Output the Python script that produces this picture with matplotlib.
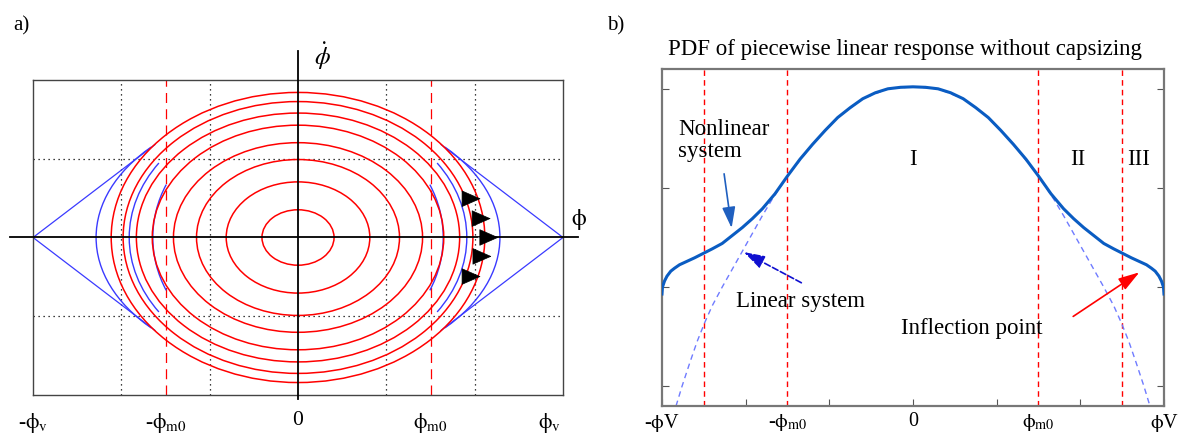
import numpy as np
import matplotlib.pyplot as plt
from matplotlib.patches import Ellipse, Arc

plt.rcParams['font.family'] = ['Liberation Serif', 'DejaVu Serif']
plt.rcParams['mathtext.fontset'] = 'stix'

# ---- panel a: phase portrait ----
# red trajectories of the linear system (semi-axes, phi and phi-dot)
ell_semi_x = [0.136, 0.271, 0.383, 0.47, 0.55, 0.61, 0.66, 0.705]
ell_semi_y = [0.176, 0.353, 0.495, 0.602, 0.713, 0.79, 0.863, 0.921]

# blue trajectories of the nonlinear system beyond phi_m0 (arcs, half-angle in deg)
blue_semi_x = [0.548, 0.637, 0.762]
blue_semi_y = [0.80, 0.835, 0.836]
blue_half_angle = [34, 42, 46]
# separatrix-like straight branches from +/-phi_v
sep_x = [1.0, 0.54]
sep_y = [0.0, 0.59]

arrow_tip_x = [0.70, 0.738, 0.767, 0.741, 0.70]
arrow_tip_y = [0.246, 0.12, 0.0, -0.12, -0.248]
arrow_tail_x = [0.64, 0.66, 0.68, 0.66, 0.64]

a_grid_x = [-2 / 3, -1 / 3, 1 / 3, 2 / 3]
a_grid_y = [-0.5, 0.5]
a_ticks = [-1.0, -0.5, 0.0, 0.5, 0.95]
a_labels = [r'-$\mathrm{\phi}_{\mathrm{v}}$', r'-$\mathrm{\phi}_{\mathrm{m0}}$', '0',
            r'$\mathrm{\phi}_{\mathrm{m0}}$', r'$\mathrm{\phi}_{\mathrm{v}}$']

# ---- panel b: PDF ----
pdf_x = [-1.0, -0.998, -0.99, -0.98, -0.965, -0.95, -0.93, -0.9, -0.87, -0.835,
         -0.8, -0.76, -0.72, -0.68, -0.64, -0.6, -0.55, -0.5, -0.45, -0.4,
         -0.35, -0.3, -0.25, -0.2, -0.15, -0.1, -0.05, 0.0, 0.05, 0.1,
         0.15, 0.2, 0.25, 0.3, 0.35, 0.4, 0.45, 0.5, 0.55, 0.6,
         0.64, 0.68, 0.72, 0.76, 0.8, 0.835, 0.87, 0.9, 0.93, 0.95,
         0.965, 0.98, 0.99, 0.998, 1.0]
pdf_y = [0.93, 1.0, 1.06, 1.11, 1.16, 1.19, 1.225, 1.26, 1.295, 1.34,
         1.385, 1.44, 1.52, 1.6, 1.69, 1.79, 1.94, 2.12, 2.29, 2.44,
         2.58, 2.71, 2.81, 2.9, 2.96, 3.0, 3.015, 3.02, 3.015, 3.0,
         2.96, 2.9, 2.81, 2.71, 2.58, 2.44, 2.29, 2.12, 1.94, 1.79,
         1.69, 1.6, 1.52, 1.44, 1.385, 1.34, 1.295, 1.26, 1.225, 1.19,
         1.16, 1.11, 1.06, 1.0, 0.93]

lin_x = [-0.944, -0.92, -0.89, -0.86, -0.83, -0.8, -0.76, -0.72, -0.68, -0.64,
         -0.6, -0.56, -0.5, -0.4, -0.3, -0.2, -0.1, 0.0, 0.1, 0.2,
         0.3, 0.4, 0.5, 0.56, 0.6, 0.64, 0.68, 0.72, 0.76, 0.8,
         0.83, 0.86, 0.89, 0.92, 0.944]
lin_y = [-0.2, 0.0, 0.23, 0.45, 0.64, 0.81, 1.0, 1.18, 1.36, 1.54,
         1.72, 1.89, 2.12, 2.44, 2.71, 2.9, 3.0, 3.02, 3.0, 2.9,
         2.71, 2.44, 2.12, 1.89, 1.72, 1.54, 1.36, 1.18, 1.0, 0.81,
         0.64, 0.45, 0.23, 0.0, -0.2]

b_region_lines = [-0.833, -0.5, 0.5, 0.833]
b_xticks = [-1, -2 / 3, -1 / 3, 0, 1 / 3, 2 / 3, 1]
b_label_pos = [-1.0, -0.5, 0.0, 0.5, 1.0]
b_labels = [r'-$\mathrm{\phi}$V', r'-$\mathrm{\phi}_{\mathrm{m0}}$', '0',
            r'$\mathrm{\phi}_{\mathrm{m0}}$', r'$\mathrm{\phi}$V']
b_yticks = [0, 1, 2, 3]

RED = '#ff0000'
BLUE = '#3a3aff'

fig = plt.figure(figsize=(11.84, 4.39), dpi=100)

# ================= panel a =================
ax = fig.add_axes([0.0279, 0.098, 0.4476, 0.7175])
ax.set_xlim(-1, 1)
ax.set_ylim(-1, 1)
for gx in a_grid_x:
    ax.axvline(gx, color='black', lw=0.9, ls=(0, (1, 3)))
for gy in a_grid_y:
    ax.axhline(gy, color='black', lw=0.9, ls=(0, (1, 3)))
for rx in [-0.5, 0.5]:
    ax.axvline(rx, color=RED, lw=0.9, ls=(0, (8, 5)))

for w, h in zip(ell_semi_x, ell_semi_y):
    ax.add_patch(Ellipse((0, 0), 2 * w, 2 * h, fill=False, ec=RED, lw=1.1, zorder=3))

for w, h, th in zip(blue_semi_x, blue_semi_y, blue_half_angle):
    ax.add_patch(Arc((0, 0), 2 * w, 2 * h, theta1=-th, theta2=th, ec=BLUE, lw=1.0, zorder=2))
    ax.add_patch(Arc((0, 0), 2 * w, 2 * h, theta1=180 - th, theta2=180 + th,
                     ec=BLUE, lw=1.0, zorder=2))

for sx in (1, -1):
    for sy in (1, -1):
        ax.plot(sx * np.array(sep_x), sy * np.array(sep_y), color=BLUE, lw=0.9, zorder=2)

# axes through the origin
ax.plot([-1.088, 1.055], [0, 0], color='black', lw=1.3, clip_on=False, zorder=4)
ax.plot([0, 0], [-1.027, 1.187], color='black', lw=1.3, clip_on=False, zorder=4)
ax.text(1.03, 0.04, r'$\mathrm{\phi}$', fontsize=17, ha='left', va='bottom')
ax.text(0.06, 1.06, r'$\dot{\phi}$', fontsize=18, ha='left', va='bottom')

for tx, ty, t0 in zip(arrow_tip_x, arrow_tip_y, arrow_tail_x):
    ax.plot([t0, tx - 0.03], [ty, ty], color='grey', lw=0.8, zorder=5)
    ax.annotate('', xy=(tx, ty), xytext=(tx - 0.035, ty),
                arrowprops=dict(arrowstyle='-|>,head_length=0.8,head_width=0.35',
                                color='black', lw=0.5, mutation_scale=16), zorder=6)

ax.set_xticks(a_ticks)
ax.set_xticklabels(a_labels, fontsize=15.5)
ax.set_yticks([])
ax.tick_params(axis='x', length=0, pad=11)
for s in ax.spines.values():
    s.set_color('#444444')
    s.set_linewidth(1.0)
fig.text(0.011, 0.93, 'a)', fontsize=15)

# ================= panel b =================
bx_ = fig.add_axes([0.5591, 0.0729, 0.424, 0.7677])
bx_.set_xlim(-1, 1)
bx_.set_ylim(-0.2, 3.2)
for rx in b_region_lines:
    bx_.axvline(rx, color=RED, lw=1.0, ls=(0, (4, 3)))
bx_.plot(lin_x, lin_y, color='#6f7bff', lw=1.0, ls=(0, (4, 3)), zorder=2)
bx_.plot(pdf_x, pdf_y, color='#0a5cc2', lw=2.2, zorder=3)

fs = 16.5
bx_.text(-0.936, 2.27, 'Nonlinear\nsystem', fontsize=fs, ha='left', va='bottom',
         linespacing=1.05)
bx_.text(0.0, 2.3, 'I', fontsize=fs, ha='center', va='center')
bx_.text(0.656, 2.3, 'II', fontsize=fs, ha='center', va='center')
bx_.text(0.899, 2.3, 'III', fontsize=fs, ha='center', va='center')
bx_.text(-0.706, 0.86, 'Linear system', fontsize=fs, ha='left', va='center')
bx_.text(-0.049, 0.59, 'Inflection point', fontsize=fs, ha='left', va='center')

bx_.annotate('', xy=(-0.721, 1.567), xytext=(-0.754, 2.17),
             arrowprops=dict(arrowstyle='-|>,head_length=0.8,head_width=0.25',
                             color='#1f5fbf', lw=1.2, mutation_scale=16))
bx_.annotate('', xy=(-0.684, 1.366), xytext=(-0.435, 1.03),
             arrowprops=dict(arrowstyle='-|>,head_length=0.8,head_width=0.25',
                             color='#1010d0', lw=1.2, ls='--', mutation_scale=16))
bx_.annotate('', xy=(0.911, 1.164), xytext=(0.629, 0.688),
             arrowprops=dict(arrowstyle='-|>,head_length=0.8,head_width=0.25',
                             color=RED, lw=1.2, mutation_scale=16))

bx_.set_xticks(b_xticks)
bx_.set_xticklabels([])
bx_.set_yticks(b_yticks)
bx_.set_yticklabels([])
bx_.tick_params(direction='in', length=5, color='#555555', right=True)
for p, lab in zip(b_label_pos, b_labels):
    bx_.text(p, -0.25, lab, fontsize=14.5, ha='center', va='top')
for s in bx_.spines.values():
    s.set_color('#777777')
    s.set_linewidth(1.6)
bx_.set_title('PDF of piecewise linear response without capsizing', fontsize=fs,
              pad=11, x=0.484)
fig.text(0.513, 0.93, 'b)', fontsize=15)

fig.savefig('out.png', dpi=100)
